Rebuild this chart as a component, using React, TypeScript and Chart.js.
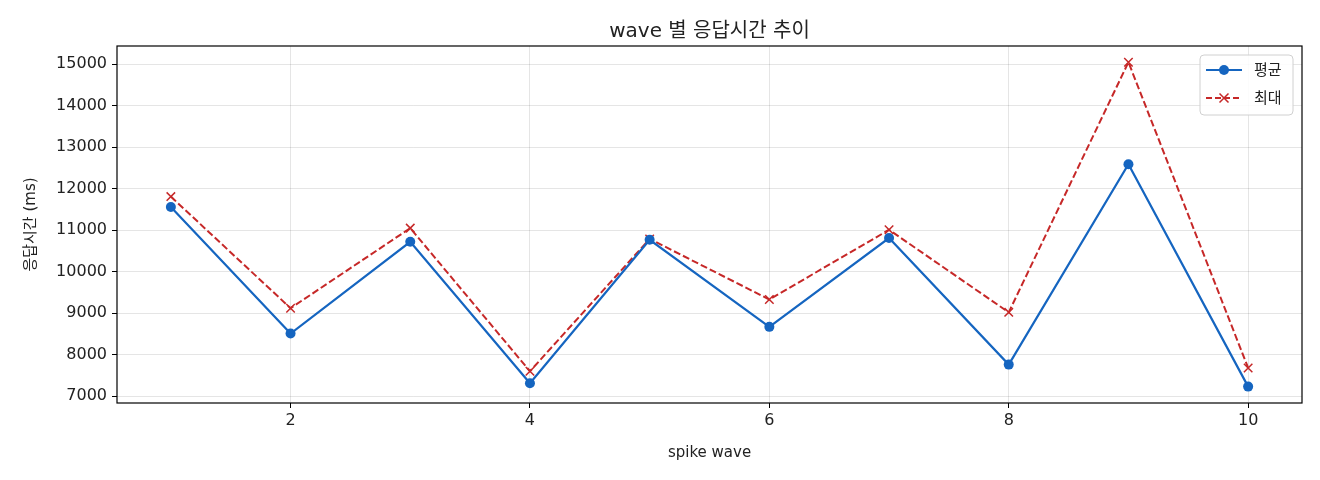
import React, { useEffect, useRef } from "react";
import { Chart, registerables } from "chart.js";

Chart.register(...registerables);

// Data
const waves = [1, 2, 3, 4, 5, 6, 7, 8, 9, 10];
const avgMs = [11560, 8510, 10720, 7310, 10770, 8670, 10810, 7760, 12590, 7230];
const maxMs = [11810, 9120, 11050, 7600, 10790, 9330, 11010, 9020, 15050, 7680];
const xTicks = [2, 4, 6, 8, 10];
const yTicks = [7000, 8000, 9000, 10000, 11000, 12000, 13000, 14000, 15000];

const TITLE = "wave 별 응답시간 추이";
const FONT = "'DejaVu Sans', 'Noto Sans CJK KR', sans-serif";
const AVG_COLOR = "#1565C0";
const MAX_COLOR = "#C62828";

// title over the plot area, frame around it, matplotlib-ish legend box
const framePlugin = {
  id: "frame",
  afterDraw(chart: Chart) {
    const { ctx, chartArea } = chart;
    const { left, top, right, bottom } = chartArea;
    ctx.save();
    ctx.strokeStyle = "#000";
    ctx.lineWidth = 1.2;
    ctx.strokeRect(left, top, right - left, bottom - top);

    ctx.fillStyle = "#222";
    ctx.font = `20px ${FONT}`;
    ctx.textAlign = "center";
    ctx.textBaseline = "middle";
    ctx.fillText(TITLE, (left + right) / 2, top - 14);

    // legend
    const bx = right - 102;
    const by = top + 9;
    const bw = 93;
    const bh = 60;
    ctx.beginPath();
    ctx.roundRect(bx, by, bw, bh, 4);
    ctx.fillStyle = "rgba(255,255,255,0.85)";
    ctx.fill();
    ctx.strokeStyle = "#d0d0d0";
    ctx.lineWidth = 1;
    ctx.stroke();

    const rows = [
      { label: "평균", color: AVG_COLOR, dash: [] as number[], marker: "circle" },
      { label: "최대", color: MAX_COLOR, dash: [6, 3], marker: "x" },
    ];
    rows.forEach((r, i) => {
      const y = by + 15 + i * 28;
      const x0 = bx + 6;
      const x1 = bx + 42;
      ctx.strokeStyle = r.color;
      ctx.lineWidth = 2;
      ctx.setLineDash(r.dash);
      ctx.beginPath();
      ctx.moveTo(x0, y);
      ctx.lineTo(x1, y);
      ctx.stroke();
      ctx.setLineDash([]);
      const cx = (x0 + x1) / 2;
      if (r.marker === "circle") {
        ctx.fillStyle = r.color;
        ctx.beginPath();
        ctx.arc(cx, y, 5, 0, Math.PI * 2);
        ctx.fill();
      } else {
        ctx.lineWidth = 1.5;
        ctx.beginPath();
        ctx.moveTo(cx - 4.5, y - 4.5);
        ctx.lineTo(cx + 4.5, y + 4.5);
        ctx.moveTo(cx + 4.5, y - 4.5);
        ctx.lineTo(cx - 4.5, y + 4.5);
        ctx.stroke();
      }
      ctx.fillStyle = "#222";
      ctx.font = `15px ${FONT}`;
      ctx.textBaseline = "middle";
      ctx.textAlign = "left";
      ctx.fillText(r.label, bx + 54, y + 1);
    });
    ctx.restore();
  },
};

const App: React.FC = () => {
  const canvasRef = useRef<HTMLCanvasElement>(null);
  const chartRef = useRef<Chart | null>(null);

  useEffect(() => {
    if (!canvasRef.current) return;
    if (chartRef.current) chartRef.current.destroy();

    chartRef.current = new Chart(canvasRef.current, {
      type: "line",
      data: {
        datasets: [
          {
            label: "평균",
            data: waves.map((w, i) => ({ x: w, y: avgMs[i] })),
            borderColor: AVG_COLOR,
            backgroundColor: AVG_COLOR,
            borderWidth: 2.2,
            pointStyle: "circle",
            pointRadius: 5,
            pointBorderWidth: 0,
            tension: 0,
          },
          {
            label: "최대",
            data: waves.map((w, i) => ({ x: w, y: maxMs[i] })),
            borderColor: MAX_COLOR,
            backgroundColor: MAX_COLOR,
            borderWidth: 2,
            borderDash: [7, 3],
            pointStyle: "crossRot",
            pointRadius: 6,
            pointBorderWidth: 1.5,
            tension: 0,
          },
        ],
      },
      options: {
        animation: false,
        responsive: true,
        maintainAspectRatio: false,
        layout: { padding: { left: 0, right: 18, top: 46, bottom: 18 } },
        scales: {
          x: {
            type: "linear",
            min: 0.55,
            max: 10.45,
            afterBuildTicks: (scale: any) => {
              scale.ticks = xTicks.map((v) => ({ value: v }));
            },
            afterFit: (scale: any) => {
              scale.height = 59;
            },
            grid: {
              color: "rgba(0,0,0,0.1)",
              tickColor: "#000",
              tickLength: 5,
              lineWidth: 1,
            },
            border: { display: false },
            ticks: {
              color: "#222",
              font: { family: FONT, size: 16 },
              padding: 3,
              maxRotation: 0,
              callback: (v: any) => String(v),
            },
            title: {
              display: true,
              text: "spike wave",
              color: "#222",
              font: { family: FONT, size: 15 },
              padding: { top: 6, bottom: 0 },
            },
          },
          y: {
            type: "linear",
            min: 6835,
            max: 15440,
            afterBuildTicks: (scale: any) => {
              scale.ticks = yTicks.map((v) => ({ value: v }));
            },
            afterFit: (scale: any) => {
              scale.width = 117;
            },
            grid: {
              color: "rgba(0,0,0,0.1)",
              tickColor: "#000",
              tickLength: 5,
              lineWidth: 1,
            },
            border: { display: false },
            ticks: {
              color: "#222",
              font: { family: FONT, size: 16 },
              padding: 5,
              callback: (v: any) => String(v),
            },
            title: {
              display: true,
              text: "응답시간 (ms)",
              color: "#222",
              font: { family: FONT, size: 15 },
              padding: { top: 22, bottom: 0 },
            },
          },
        },
        plugins: {
          legend: { display: false },
          tooltip: { enabled: false },
          title: { display: false },
        },
      },
      plugins: [framePlugin],
    });

    return () => {
      if (chartRef.current) {
        chartRef.current.destroy();
        chartRef.current = null;
      }
    };
  }, []);

  return (
    <div
      style={{
        position: "absolute",
        left: 0,
        top: 0,
        width: 1320,
        height: 480,
        background: "#fff",
      }}
    >
      <canvas ref={canvasRef} />
    </div>
  );
};

export default App;
